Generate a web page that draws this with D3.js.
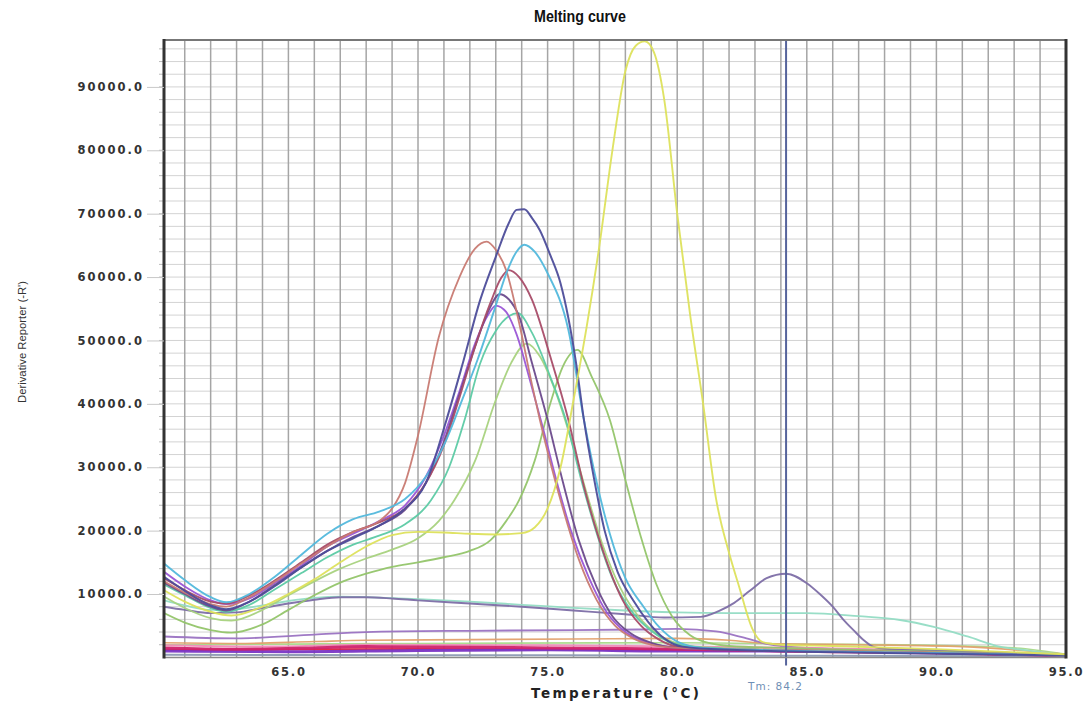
<!DOCTYPE html>
<html>
<head>
<meta charset="utf-8">
<script src="https://cdn.jsdelivr.net/npm/d3@7/dist/d3.min.js"></script>
<style>
  html, body { margin: 0; padding: 0; background: #ffffff; }
  svg { display: block; }
</style>
</head>
<body>
<svg id="chart" width="1090" height="713"></svg>
<script>
// ---- data: melt-derivative curves, [temperature °C, -R'] ----
const xTicks = [65, 70, 75, 80, 85, 90, 95];
const yTicks = [10000, 20000, 30000, 40000, 50000, 60000, 70000, 80000, 90000];
const tmValue = 84.2;

const yellowCurve = [[60.2,10600],[61,8800],[62,7200],[62.8,6600],[64,8000],[65,10000],[66,12300],[67,15000],[68,17500],[69,19300],[70,19800],[71,19700],[72,19500],[73,19400],[74,19600],[74.5,20500],[75,23500],[75.5,30000],[76,40600],[76.5,52000],[77,65000],[77.5,80000],[78,92500],[78.4,96500],[78.75,97200],[79.1,95500],[79.5,88000],[80,70000],[80.5,54000],[81,40000],[81.5,25000],[82,16500],[82.4,11000],[82.9,4500],[83.3,2400],[84,2000],[86,1800],[90,1300],[95,500]];
const slateCurve = [[60.2,12700],[61,10500],[62,8200],[62.6,7600],[63.5,8800],[64.5,11300],[65.5,14200],[66.5,16800],[67.5,18800],[68.5,20800],[69.5,23500],[70.3,27500],[71.1,37500],[71.7,46000],[72.4,56400],[73,63200],[73.5,68500],[73.8,70600],[74.1,70700],[74.4,69300],[74.7,67400],[75.1,63500],[75.5,59000],[76.1,46400],[76.4,37500],[76.8,28000],[77.2,20000],[77.7,13500],[78.3,9000],[78.9,5500],[79.5,3000],[80.2,1700],[82,1200],[88,700],[95,300]];
const cyanCurve = [[60.2,14800],[61,12200],[62,9500],[62.6,8700],[63.5,10000],[64.5,12800],[65.5,16200],[66.5,19500],[67.5,21800],[68.5,23000],[69.5,25000],[70.3,28500],[71,33500],[71.7,40600],[72.3,47000],[73,55500],[73.4,60500],[73.8,64000],[74.1,65100],[74.5,64000],[75,60600],[75.8,51700],[76.4,37500],[76.9,27500],[77.4,19500],[78,12500],[78.7,8000],[79.3,4800],[80,2500],[81,1500],[84,1100],[90,700],[95,300]];
const salmonCurve = [[60.2,12000],[61,10200],[62,8400],[62.6,8000],[63.5,9500],[64.5,12000],[65.5,14800],[66.5,17500],[67.5,19800],[68.5,21500],[69,23500],[69.5,27500],[70,35000],[70.8,50500],[71.6,60000],[72.2,64500],[72.65,65600],[73,64300],[73.4,61100],[73.9,52800],[74.4,43000],[74.7,37500],[75.5,24800],[76.2,15500],[76.9,9000],[77.6,5000],[78.3,3000],[79,2000],[80,1500],[84,1200],[90,800],[95,300]];
const roseCurve = [[60.2,12500],[61,10600],[62,8800],[62.6,8500],[63.5,9800],[64.5,12200],[65.5,15000],[66.5,17800],[67.5,19800],[68.5,21300],[69.5,23500],[70.3,27500],[71,33500],[71.6,41000],[72.2,49000],[72.8,56000],[73.2,59800],[73.5,61100],[73.9,60000],[74.4,56400],[75.1,47500],[75.8,37500],[76.4,27000],[77,18500],[77.9,9000],[78.6,5000],[79.3,2800],[80,1700],[82,1200],[90,700],[95,300]];
const purpleCurve = [[60.2,11800],[61,10000],[62,8000],[62.6,7400],[63.5,8800],[64.5,11500],[65.5,14200],[66.5,16800],[67.5,19000],[68.5,20800],[69.5,23300],[70.3,27500],[71,34000],[71.6,41500],[72.2,49000],[72.7,54500],[73.15,57300],[73.5,56500],[73.9,53800],[74.4,46400],[75,37500],[75.6,27500],[76.2,18500],[76.9,11000],[77.5,6500],[78.2,3800],[79,2300],[80,1500],[82,1200],[90,700],[95,300]];
const violetCurve = [[60.2,13500],[61,11200],[62,9000],[62.6,8400],[63.5,9300],[64.5,11800],[65.5,14500],[66.5,17500],[67.5,19500],[68.5,21500],[69.5,24000],[70.3,28500],[71,35000],[71.6,42000],[72.2,49500],[72.7,54000],[73,55500],[73.4,54500],[73.8,51000],[74.3,44000],[74.8,36500],[75.4,27000],[75.9,20000],[76.6,12500],[77.3,7000],[78,4000],[79,2200],[80,1500],[82,1200],[90,700],[95,300]];
const tealCurve = [[60.2,11500],[61,9800],[62,7800],[62.6,7200],[63.5,8300],[64.5,10800],[65.5,13300],[66.5,15800],[67.5,17800],[68.5,19200],[69.5,21000],[70.5,24800],[71.2,30000],[71.8,37500],[72.4,46400],[73,51500],[73.5,53800],[73.85,54300],[74.4,51200],[75.1,44300],[75.7,37500],[76.3,28000],[76.9,19500],[77.5,12500],[78.2,7500],[79,4200],[79.8,2300],[81,1500],[84,1100],[90,700],[95,300]];
const lightGreenCurve = [[60.2,9600],[61,7800],[62,6200],[62.8,5800],[64,7500],[65,9800],[66,12000],[67,14000],[68,15600],[69,17000],[70,18800],[70.8,21500],[71.4,24800],[72.2,31000],[73,40600],[73.6,46500],[74.2,49500],[74.7,47500],[75.3,42000],[75.9,34500],[76.5,26000],[77.1,18000],[77.8,11000],[78.5,6500],[79.3,3500],[80,2200],[81,1600],[84,1200],[90,800],[95,300]];
const greenCurve = [[60.2,7000],[61,5500],[62,4300],[62.8,3900],[64,5200],[65,7500],[66,9800],[67,11800],[68,13200],[69,14300],[70,15000],[71,15800],[72,16800],[72.8,18500],[73.4,21500],[73.9,24800],[74.5,31000],[75.1,40000],[75.6,46000],[76.15,48500],[76.7,44300],[77.4,37500],[78,28000],[78.6,19000],[79.2,11500],[79.8,6500],[80.5,3500],[81.3,2200],[82,1800],[85,1400],[90,900],[95,300]];
const tmCurve = [[60.2,8000],[61,7500],[62,7000],[63,7100],[64,7800],[65,8500],[66,9100],[67,9500],[68,9500],[69,9300],[70,9000],[72,8500],[74,8000],[76,7400],[78,6800],[79.5,6300],[80.9,6400],[81.6,7300],[82.2,8600],[82.8,10500],[83.45,12500],[84.2,13200],[85,11700],[85.5,10000],[86,8000],[86.4,6000],[86.8,4300],[87.2,2700],[87.55,1700],[88.2,1300],[90,1100],[95,400]];
const mintCurve = [[60.2,9000],[61,8200],[62,7500],[63,7600],[64,8200],[65,8900],[66,9400],[67,9600],[68,9500],[70,9200],[72,8800],[74,8300],[76,7800],[78,7400],[80,7100],[82,7000],[85,7000],[87,6500],[88.6,5900],[89.9,4800],[91.2,3300],[92.45,1700],[93.5,1100],[95,400]];
const lowPurpleCurve = [[60.2,3300],[63,3000],[66,3600],[68,4000],[72,4200],[76,4300],[78.5,4400],[80,4500],[81.5,4100],[82.5,3200],[83.5,2100],[85,1500],[90,1000],[95,300]];
const lowOrangeCurve = [[60.2,2300],[63,2200],[66,2500],[68,2700],[72,2800],[76,2900],[80,3000],[82,2700],[83.5,2200],[87,2000],[91,1700],[95,500]];
const lowLimeCurve = [[60.2,2000],[65,2100],[70,2200],[80,2300],[85,2100],[90,1900],[93,1500],[95,500]];
const pinkCurve = [[60.2,1900],[64,1700],[68,2000],[75,1900],[80,1700],[85,1500],[90,1100],[95,400]];
const magentaCurve = [[60.2,1500],[63,1300],[66,1500],[68,1700],[72,1600],[75,1500],[78,1400],[80,1300],[83,1100],[86,900],[90,700],[95,300]];
const redCurve = [[60.2,1200],[70,1300],[80,1200],[90,700],[95,300]];
const violetBaseCurve = [[60.2,1000],[65,900],[70,1100],[75,1200],[80,1000],[85,1000],[90,800],[95,300]];
const greyBaseCurve = [[60.2,400],[70,350],[80,300],[95,150]];

const series = [
  { name: "grey base",    values: greyBaseCurve,    color: "#8c9ab4", width: 2 },
  { name: "low lime",     values: lowLimeCurve,     color: "#a9d98a", width: 1.6 },
  { name: "low orange",   values: lowOrangeCurve,   color: "#e2a06c", width: 1.6 },
  { name: "low purple",   values: lowPurpleCurve,   color: "#9a72c2", width: 1.8 },
  { name: "pink",         values: pinkCurve,        color: "#f08ab8", width: 2 },
  { name: "red",          values: redCurve,         color: "#e0203c", width: 2.2 },
  { name: "violet base",  values: violetBaseCurve,  color: "#7a35c5", width: 3 },
  { name: "magenta",      values: magentaCurve,     color: "#d0236c", width: 3 },
  { name: "mint",         values: mintCurve,        color: "#93dcc4", width: 1.8 },
  { name: "tm",           values: tmCurve,          color: "#7d6ea6", width: 1.9 },
  { name: "green",        values: greenCurve,       color: "#93c56a", width: 1.8 },
  { name: "light green",  values: lightGreenCurve,  color: "#a8d27e", width: 1.8 },
  { name: "teal",         values: tealCurve,        color: "#5ccaa4", width: 1.8 },
  { name: "violet",       values: violetCurve,      color: "#9a55d6", width: 1.8 },
  { name: "purple",       values: purpleCurve,      color: "#6c4a8c", width: 1.9 },
  { name: "rose",         values: roseCurve,        color: "#a84c68", width: 1.9 },
  { name: "salmon",       values: salmonCurve,      color: "#c87a72", width: 1.8 },
  { name: "cyan",         values: cyanCurve,        color: "#52b8dc", width: 1.9 },
  { name: "slate",        values: slateCurve,       color: "#4d4d9a", width: 2 },
  { name: "yellow",       values: yellowCurve,      color: "#dde25c", width: 1.9 }
];

// ---- layout ----
const plot = { left: 164, right: 1066, top: 40, bottom: 657.4 };
const svg = d3.select("#chart");

const x = d3.scaleLinear().domain([60.2, 95]).range([plot.left, plot.right]);
const y = d3.scaleLinear().domain([0, 97400]).range([plot.bottom, plot.top]);

svg.append("defs").append("clipPath").attr("id", "plot-clip")
  .append("rect")
  .attr("x", plot.left).attr("y", plot.top)
  .attr("width", plot.right - plot.left).attr("height", plot.bottom - plot.top);

// grid: light rows every 2000, darker columns every 1 °C
const grid = svg.append("g");
grid.selectAll("line.h")
  .data(d3.range(2000, 97400, 2000))
  .join("line")
  .attr("x1", plot.left).attr("x2", plot.right)
  .attr("y1", d => y(d)).attr("y2", d => y(d))
  .attr("stroke", "#d3d3d3").attr("stroke-width", 1);
grid.selectAll("line.v")
  .data(d3.range(61, 95, 1))
  .join("line")
  .attr("y1", plot.top).attr("y2", plot.bottom)
  .attr("x1", d => x(d)).attr("x2", d => x(d))
  .attr("stroke", "#a5a5a5").attr("stroke-width", 1.5);

// minor ticks at the left edge
svg.append("g").selectAll("line")
  .data(d3.range(2000, 97400, 2000))
  .join("line")
  .attr("x1", plot.left - 5).attr("x2", plot.left)
  .attr("y1", d => y(d)).attr("y2", d => y(d))
  .attr("stroke", "#bbbbbb").attr("stroke-width", 1);

// curves
const line = d3.line()
  .x(d => x(d[0]))
  .y(d => y(d[1]))
  .curve(d3.curveMonotoneX);

svg.append("g").attr("clip-path", "url(#plot-clip)")
  .selectAll("path")
  .data(series)
  .join("path")
  .attr("d", d => line(d.values))
  .attr("fill", "none")
  .attr("stroke", d => d.color)
  .attr("stroke-width", d => d.width)
  .attr("stroke-linejoin", "round")
  .attr("opacity", 0.95);

// Tm marker
svg.append("line")
  .attr("x1", x(tmValue)).attr("x2", x(tmValue))
  .attr("y1", plot.top).attr("y2", plot.bottom + 8)
  .attr("stroke", "#56649c").attr("stroke-width", 2);

// frame
svg.append("line").attr("x1", plot.left).attr("x2", plot.right)
  .attr("y1", plot.top).attr("y2", plot.top)
  .attr("stroke", "#777777").attr("stroke-width", 2);
svg.append("line").attr("x1", plot.left).attr("x2", plot.right)
  .attr("y1", plot.bottom).attr("y2", plot.bottom)
  .attr("stroke", "#8a8a8a").attr("stroke-width", 1.5);
svg.append("line").attr("x1", plot.left).attr("x2", plot.left)
  .attr("y1", plot.top - 1).attr("y2", plot.bottom + 1)
  .attr("stroke", "#333333").attr("stroke-width", 3);
svg.append("line").attr("x1", plot.right).attr("x2", plot.right)
  .attr("y1", plot.top - 1).attr("y2", plot.bottom + 1)
  .attr("stroke", "#333333").attr("stroke-width", 3);

// axes
const tickFont = "'DejaVu Sans', Verdana, sans-serif";
const yAxis = svg.append("g")
  .attr("transform", `translate(${plot.left},0)`)
  .call(d3.axisLeft(y).tickValues(yTicks).tickFormat(d3.format(".1f")).tickSize(17).tickPadding(3));
yAxis.select(".domain").remove();
yAxis.selectAll(".tick line").attr("stroke", "#c8c8c8");
yAxis.selectAll(".tick text")
  .attr("fill", "#333")
  .style("font-family", tickFont)
  .style("font-weight", "bold")
  .style("font-size", "11.5px")
  .style("letter-spacing", "2px");

const xAxis = svg.append("g")
  .attr("transform", `translate(0,${plot.bottom})`)
  .call(d3.axisBottom(x).tickValues(xTicks).tickFormat(d3.format(".1f")).tickSize(0).tickPadding(10));
xAxis.select(".domain").remove();
xAxis.selectAll(".tick text")
  .attr("fill", "#333")
  .style("font-family", tickFont)
  .style("font-weight", "bold")
  .style("font-size", "11.5px")
  .style("letter-spacing", "1.8px");

// labels
svg.append("text")
  .attr("x", 580).attr("y", 22)
  .attr("text-anchor", "middle")
  .attr("textLength", 92)
  .attr("lengthAdjust", "spacingAndGlyphs")
  .style("font-family", "'Liberation Sans', Arial, sans-serif")
  .style("font-weight", "bold")
  .style("font-size", "17px")
  .attr("fill", "#111")
  .text("Melting curve");

svg.append("text")
  .attr("x", 615).attr("y", 698)
  .attr("text-anchor", "middle")
  .attr("textLength", 168)
  .attr("lengthAdjust", "spacing")
  .style("font-family", tickFont)
  .style("font-weight", "bold")
  .style("font-size", "13.5px")
  .attr("fill", "#222")
  .text("Temperature (°C)");

svg.append("text")
  .attr("transform", "translate(26,342) rotate(-90)")
  .attr("text-anchor", "middle")
  .attr("textLength", 122)
  .attr("lengthAdjust", "spacingAndGlyphs")
  .style("font-family", "'Liberation Sans', Arial, sans-serif")
  .style("font-size", "11px")
  .attr("fill", "#333")
  .text("Derivative Reporter (-R')");

svg.append("text")
  .attr("x", 748).attr("y", 690)
  .style("font-family", tickFont)
  .style("font-size", "10.5px")
  .style("letter-spacing", "1px")
  .attr("fill", "#6f8fb5")
  .text("Tm: " + tmValue.toFixed(1));
</script>
</body>
</html>
